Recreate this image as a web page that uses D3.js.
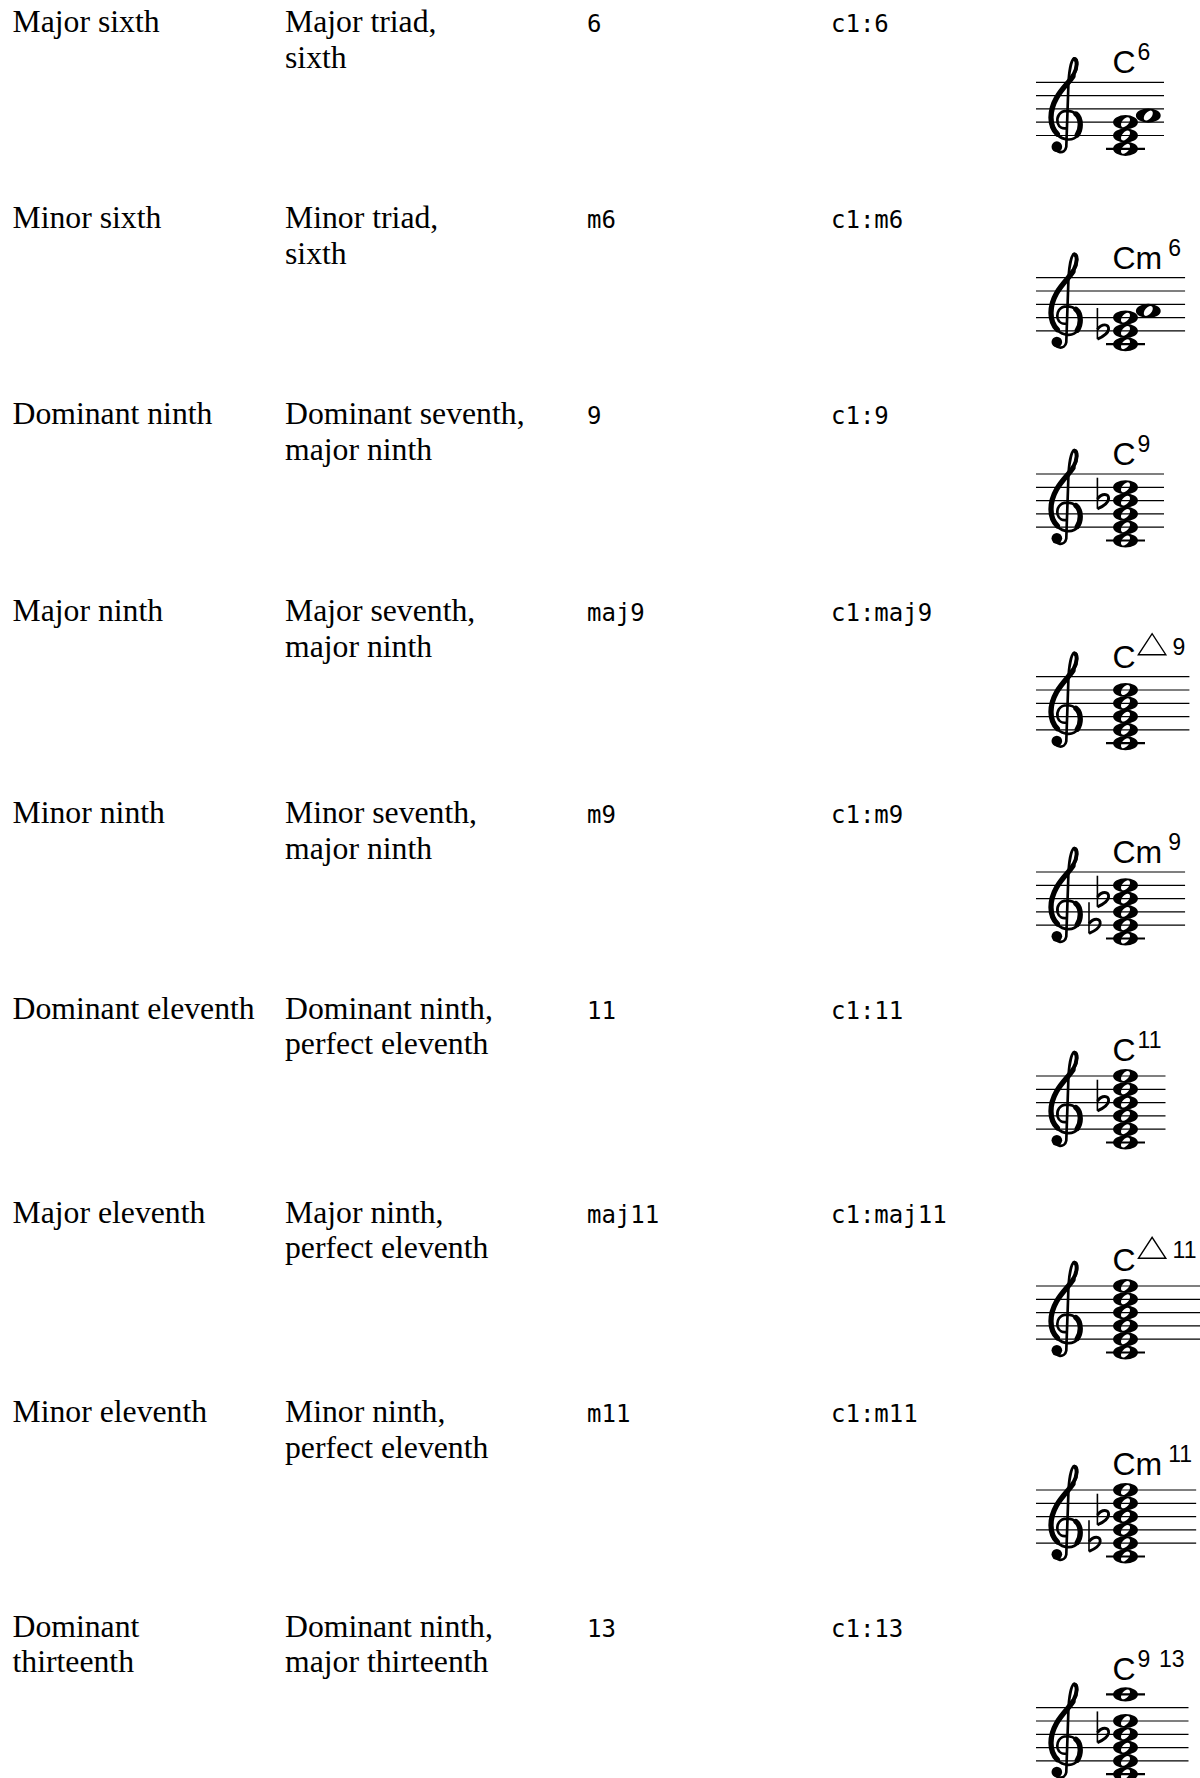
<!DOCTYPE html>
<html>
<head>
<meta charset="utf-8">
<script src="https://cdn.jsdelivr.net/npm/d3@7"></script>
<style>
  html, body { margin: 0; padding: 0; background: #ffffff; }
  svg { display: block; }
</style>
</head>
<body>
<svg id="chart" width="1200" height="1778"></svg>
<script>
// ---------------- DATA ----------------
const chordTypes = [
  ["Major sixth"], ["Minor sixth"], ["Dominant ninth"], ["Major ninth"], ["Minor ninth"],
  ["Dominant eleventh"], ["Major eleventh"], ["Minor eleventh"], ["Dominant", "thirteenth"]
];
const chordComponents = [
  ["Major triad,", "sixth"],
  ["Minor triad,", "sixth"],
  ["Dominant seventh,", "major ninth"],
  ["Major seventh,", "major ninth"],
  ["Minor seventh,", "major ninth"],
  ["Dominant ninth,", "perfect eleventh"],
  ["Major ninth,", "perfect eleventh"],
  ["Minor ninth,", "perfect eleventh"],
  ["Dominant ninth,", "major thirteenth"]
];
const chordModifiers = ["6", "m6", "9", "maj9", "m9", "11", "maj11", "m11", "13"];
const chordExamples = ["c1:6", "c1:m6", "c1:9", "c1:maj9", "c1:m9", "c1:11", "c1:maj11", "c1:m11", "c1:13"];
const chordNotes = [
  ["c'", "e'", "g'", "a'"],
  ["c'", "ees'", "g'", "a'"],
  ["c'", "e'", "g'", "bes'", "d''"],
  ["c'", "e'", "g'", "b'", "d''"],
  ["c'", "ees'", "g'", "bes'", "d''"],
  ["c'", "e'", "g'", "bes'", "d''", "f''"],
  ["c'", "e'", "g'", "b'", "d''", "f''"],
  ["c'", "ees'", "g'", "bes'", "d''", "f''"],
  ["c'", "e'", "g'", "bes'", "d''", "a''"]
];
const chordRoot = "C";
const chordQuality = ["", "m", "", "", "m", "", "", "m", ""];
const chordSuperscripts = [
  ["6"], ["6"], ["9"], ["\u25B3", "9"], ["9"], ["11"], ["\u25B3", "11"], ["11"], ["9", "13"]
];

// ---------------- LAYOUT ----------------
const rowBaseline = [32, 228, 424, 621, 823, 1018.5, 1222.5, 1422, 1636.5];
const staffTop    = [82.3, 277.7, 474, 676.7, 872, 1076, 1286, 1490, 1707.7];
const SP = 13.3;                 // staff space
const LINE_SKIP = 36;            // text baseline skip
const colX = d3.scaleOrdinal()
  .domain(["type", "components", "modifier", "example"])
  .range([12.5, 285, 587, 831]);
const staffLeft = 1036, staffMinLen = 128;
const clefX = 1047;
const noteX = 1125.5;
const nameX = 1112.5;
const flatCols = [-28.1, -36.5];

const svg = d3.select("#chart");
svg.append("rect").attr("width", 1200).attr("height", 1778).attr("fill", "#fff");

const SERIF = "'Liberation Serif', 'Times New Roman', serif";
const MONO = "'DejaVu Sans Mono', 'Liberation Mono', monospace";
const SANS = "'Liberation Sans', Arial, Helvetica, sans-serif";

// ---------------- TEXT COLUMNS ----------------
function serifColumn(key, data) {
  data.forEach((lines, i) => {
    const g = svg.append("g")
      .attr("transform", `translate(${colX(key)},${rowBaseline[i]}) scale(1.04,1)`);
    g.selectAll("text").data(lines).join("text")
      .attr("x", 0).attr("y", (d, k) => k * LINE_SKIP)
      .attr("font-family", SERIF).attr("font-size", 30.5).attr("fill", "#000")
      .text(d => d);
  });
}
serifColumn("type", chordTypes);
serifColumn("components", chordComponents);

function monoColumn(key, data) {
  svg.append("g").selectAll("text").data(data).join("text")
    .attr("x", colX(key)).attr("y", (d, i) => rowBaseline[i])
    .attr("font-family", MONO).attr("font-size", 24).attr("fill", "#000")
    .text(d => d);
}
monoColumn("modifier", chordModifiers);
monoColumn("example", chordExamples);

// ---------------- MUSIC ----------------
const letterIdx = { c: 0, d: 1, e: 2, f: 3, g: 4, a: 5, b: 6 };
function parseNote(n) {
  const letter = n[0];
  const marks = (n.match(/'/g) || []).length;
  const octave = 3 + marks;
  const acc = n.slice(1).replace(/'/g, "");
  return {
    pos: (octave - 4) * 7 + letterIdx[letter] - 6,   // 0 = middle line (B4)
    flat: acc === "es",
    sharp: acc === "is"
  };
}
// staff position -> y offset from staff top
const posY = d3.scaleLinear().domain([-4, 4]).range([4 * SP, 0]);

function headPath(cx, cy) {
  const rx = 12.4, ry = 7.1;
  const a = 5.8, b = 3.3, rot = -50;
  const r = rot * Math.PI / 180;
  const dx = a * Math.cos(r), dy = a * Math.sin(r);
  return `M${cx - rx},${cy} A${rx},${ry} 0 1 0 ${cx + rx},${cy} A${rx},${ry} 0 1 0 ${cx - rx},${cy} Z ` +
         `M${cx + dx},${cy + dy} A${a},${b} ${rot} 1 0 ${cx - dx},${cy - dy} A${a},${b} ${rot} 1 0 ${cx + dx},${cy + dy} Z`;
}

function drawClef(g, x, gy) {
  const c = g.append("g").attr("transform", `translate(${x},${gy}) scale(${SP})`);
  c.append("path")
    .attr("d", "M0.55,1.75 C0.55,2.35 1.35,2.45 1.45,1.85 L1.62,-3.1 C1.68,-3.9 1.85,-4.75 2.05,-4.8 " +
               "C2.3,-4.8 2.35,-4.1 2.0,-3.5 C1.6,-2.85 0.25,-1.9 0.25,-0.35 C0.25,0.75 1.0,1.3 1.65,1.3 " +
               "C2.25,1.3 2.55,0.75 2.55,0.2 C2.55,-0.45 2.05,-0.85 1.5,-0.85 C0.95,-0.85 0.7,-0.4 0.8,0.05 " +
               "C0.9,0.4 1.2,0.5 1.45,0.45")
    .attr("fill", "none").attr("stroke", "#000").attr("stroke-width", 0.2)
    .attr("stroke-linecap", "round");
  c.append("path")
    .attr("d", "M1.95,-3.45 C1.6,-2.85 0.3,-1.9 0.3,-0.35 C0.3,0.2 0.48,0.6 0.78,0.9")
    .attr("fill", "none").attr("stroke", "#000").attr("stroke-width", 0.4)
    .attr("stroke-linecap", "round");
  c.append("path")
    .attr("d", "M2.28,0.95 C2.45,0.7 2.5,0.45 2.5,0.2 C2.5,-0.15 2.4,-0.45 2.18,-0.62")
    .attr("fill", "none").attr("stroke", "#000").attr("stroke-width", 0.4)
    .attr("stroke-linecap", "round");
  c.append("path")
    .attr("d", "M2.05,-4.75 C2.3,-4.7 2.3,-4.1 1.98,-3.55")
    .attr("fill", "none").attr("stroke", "#000").attr("stroke-width", 0.3)
    .attr("stroke-linecap", "round");
  c.append("circle").attr("cx", 0.74).attr("cy", 1.84).attr("r", 0.4).attr("fill", "#000");
}

function drawFlat(g, x, y) {
  const f = g.append("g").attr("transform", `translate(${x},${y}) scale(${SP})`);
  f.append("path").attr("d", "M0,-1.72 L0,0.62")
    .attr("stroke", "#000").attr("stroke-width", 0.12).attr("fill", "none");
  f.append("path").attr("d", "M0,-0.12 C0.32,-0.55 0.88,-0.58 0.84,-0.12 C0.8,0.2 0.4,0.45 0,0.62")
    .attr("stroke", "#000").attr("stroke-width", 0.22).attr("fill", "none");
}

chordNotes.forEach((notes, i) => {
  const g = svg.append("g").attr("class", "staff-" + i);
  const top = staffTop[i];
  const parsed = notes.map(parseNote).sort((p, q) => p.pos - q.pos);
  const yOf = p => top + posY(p);

  // displacement for seconds
  parsed.forEach((p, k) => {
    p.dx = 0;
    if (k > 0 && p.pos - parsed[k - 1].pos === 1 && parsed[k - 1].dx === 0) p.dx = 22.8;
  });

  // chord name
  const topNote = parsed[parsed.length - 1];
  const nameBase = Math.min(top - 9, yOf(topNote.pos) - 7 - 7.7);
  const ng = g.append("g");
  const mainT = ng.append("text")
    .attr("x", nameX).attr("y", nameBase)
    .attr("font-family", SANS).attr("font-size", 32).attr("fill", "#000")
    .text(chordRoot + chordQuality[i]);
  let x = nameX + mainT.node().getComputedTextLength() + (chordQuality[i] ? 6 : 2);
  let nameRight = x;
  const supBase = nameBase - 13;
  chordSuperscripts[i].forEach(s => {
    if (s === "\u25B3") {
      const w = 29, h = 21;
      ng.append("path")
        .attr("d", d3.line()([[x + 0.8, supBase], [x + w / 2, supBase - h], [x + w - 0.8, supBase]]) + "Z")
        .attr("fill", "none").attr("stroke", "#000").attr("stroke-width", 1.4)
        .attr("stroke-linejoin", "miter");
      nameRight = x + w;
      x += w + 6;
    } else {
      const t = ng.append("text")
        .attr("x", x).attr("y", supBase)
        .attr("font-family", SANS).attr("font-size", 23).attr("fill", "#000")
        .text(s);
      const len = t.node().getComputedTextLength();
      nameRight = x + len;
      x += len + 8.5;
    }
  });

  // staff lines
  const staffRight = Math.max(staffLeft + staffMinLen, nameRight + 4);
  g.append("g").selectAll("line").data([-4, -2, 0, 2, 4]).join("line")
    .attr("x1", staffLeft).attr("x2", staffRight)
    .attr("y1", d => yOf(d)).attr("y2", d => yOf(d))
    .attr("stroke", "#000").attr("stroke-width", 1.2);

  // clef
  drawClef(g, clefX, yOf(-2));

  // ledger lines
  const ledgers = new Set();
  parsed.forEach(p => {
    if (p.pos <= -6) for (let l = -6; l >= p.pos; l -= 2) ledgers.add(l);
    if (p.pos >= 6) for (let l = 6; l <= p.pos; l += 2) ledgers.add(l);
  });
  g.append("g").selectAll("line").data([...ledgers]).join("line")
    .attr("x1", noteX - 19.5).attr("x2", noteX + 19.5)
    .attr("y1", d => yOf(d)).attr("y2", d => yOf(d))
    .attr("stroke", "#000").attr("stroke-width", 2.2);

  // note heads
  g.append("g").selectAll("path").data(parsed).join("path")
    .attr("d", p => headPath(noteX + p.dx, yOf(p.pos)))
    .attr("fill", "#000").attr("fill-rule", "evenodd");

  // accidentals (top-down columns)
  const flats = parsed.filter(p => p.flat).sort((p, q) => q.pos - p.pos);
  let prev = null, col = 0;
  flats.forEach(p => {
    if (prev !== null && prev.pos - p.pos < 6) col = (col + 1) % flatCols.length; else col = 0;
    drawFlat(g, noteX + flatCols[col], yOf(p.pos));
    prev = p;
  });
});
</script>
</body>
</html>
